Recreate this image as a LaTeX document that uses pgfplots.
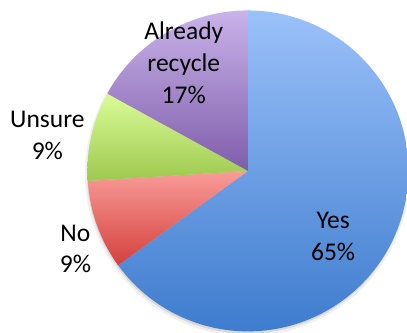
\documentclass[border=0pt]{standalone}
\usepackage{pgfplots}
\usepackage{pgfplotstable}
\pgfplotsset{compat=1.18}
\usepackage{fontspec}
\setmainfont{Carlito}

\definecolor{yesT}{RGB}{155,193,249}
\definecolor{yesB}{RGB}{62,124,206}
\definecolor{noT}{RGB}{249,156,152}
\definecolor{noB}{RGB}{212,64,60}
\definecolor{unT}{RGB}{218,252,152}
\definecolor{unB}{RGB}{158,200,78}
\definecolor{alT}{RGB}{202,178,234}
\definecolor{alB}{RGB}{126,94,170}

\pgfplotstableread{
label share
Yes 65
No 9
Unsure 9
Already 17
}\piedata

\pgfplotstablegetelem{0}{share}\of\piedata \let\sYes\pgfplotsretval
\pgfplotstablegetelem{1}{share}\of\piedata \let\sNo\pgfplotsretval
\pgfplotstablegetelem{2}{share}\of\piedata \let\sUn\pgfplotsretval
\pgfplotstablegetelem{3}{share}\of\piedata \let\sAl\pgfplotsretval

\pgfmathsetmacro\aA{90}
\pgfmathsetmacro\aB{\aA-3.6*\sYes}
\pgfmathsetmacro\aC{\aB-3.6*\sNo}
\pgfmathsetmacro\aD{\aC-3.6*\sUn}
\pgfmathsetmacro\aE{\aD-3.6*\sAl}

\begin{document}
\begin{tikzpicture}
\begin{axis}[
  hide axis,
  x=160.5pt, y=160.5pt,
  xmin=-1.545, xmax=0.991, ymin=-1.009, ymax=1.065,
  clip=true,
  samples=90,
]
% soft shadow
\addplot[draw=none, fill=black, fill opacity=0.06, domain=0:360, variable=\t] ({1.012*cos(\t)-0.004},{1.012*sin(\t)-0.018});
\addplot[draw=none, fill=black, fill opacity=0.10, domain=0:360, variable=\t] ({1.0*cos(\t)-0.003},{1.0*sin(\t)-0.014});
% slices
\addplot[draw=none, top color=yesT, bottom color=yesB, domain=\aB:\aA, variable=\t] ({cos(\t)},{sin(\t)}) -- (axis cs:0,0) -- cycle;
\addplot[draw=none, top color=noT, bottom color=noB, domain=\aC:\aB, variable=\t] ({cos(\t)},{sin(\t)}) -- (axis cs:0,0) -- cycle;
\addplot[draw=none, top color=unT, bottom color=unB, domain=\aD:\aC, variable=\t] ({cos(\t)},{sin(\t)}) -- (axis cs:0,0) -- cycle;
\addplot[draw=none, top color=alT, bottom color=alB, domain=\aE:\aD, variable=\t] ({cos(\t)},{sin(\t)}) -- (axis cs:0,0) -- cycle;

\begin{scope}[every node/.style={anchor=base, inner sep=0pt, font=\fontsize{25.5}{30}\selectfont}]
\node at (axis cs:-0.40,0.819) {Already};
\node at (axis cs:-0.40,0.619) {recycle};
\node at (axis cs:-0.40,0.419) {17\%};
\node at (axis cs:-1.25,0.269) {Unsure};
\node at (axis cs:-1.25,0.069) {9\%};
\node at (axis cs:-1.075,-0.4375) {No};
\node at (axis cs:-1.075,-0.631) {9\%};
\node at (axis cs:0.531,-0.356) {Yes};
\node at (axis cs:0.531,-0.556) {65\%};
\end{scope}
\end{axis}
\pgfresetboundingbox
\useasboundingbox (current axis.south west) rectangle (current axis.north east);
\end{tikzpicture}
\end{document}
